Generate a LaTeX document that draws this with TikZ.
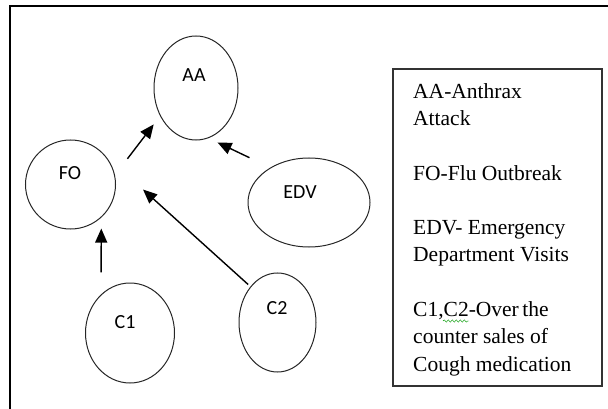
\documentclass[tikz,border=0pt]{standalone}
\usepackage{fontspec}
\setmainfont{Liberation Serif}
\newfontfamily\lblfont{Carlito}
\usetikzlibrary{arrows.meta,shapes.geometric,decorations.pathmorphing}

\begin{document}
\begin{tikzpicture}[x=1pt,y=-1pt,
  bubble/.style={ellipse, draw=black!85, line width=1pt, inner sep=0pt},
  lbl/.style={font=\lblfont\fontsize{20}{20}\selectfont},
  arr/.style={-{Triangle[length=14pt,width=12pt]}, line width=1.4pt},
  keytext/.style={align=left, inner sep=0pt, font=\fontsize{21.5}{27.3}\selectfont}]
\useasboundingbox (0,0) rectangle (608,409);

% Frame
\draw[line width=2.2pt] (10,409) -- (10,6) -- (608,6);

% Events
\node[bubble, minimum width=84pt, minimum height=104pt] (aa) at (196,88) {};
\node[bubble, minimum width=90pt, minimum height=89pt] (fo) at (70.5,184.5) {};
\node[bubble, minimum width=122pt, minimum height=89pt] (edv) at (309,202.5) {};
\node[bubble, minimum width=89pt, minimum height=100pt] (c1) at (130,333) {};
\node[bubble, minimum width=77pt, minimum height=99pt] (c2) at (277.5,322.5) {};

\node[lbl] (aa-t) at (194,75) {AA};
\node[lbl] (fo-t) at (70,173) {FO};
\node[lbl] (edv-t) at (300,192) {EDV};
\node[lbl] (c1-t) at (125,322) {C1};
\node[lbl] (c2-t) at (277,308) {C2};

% Arrows
\draw[arr, shorten <=20.5pt, shorten >=10.5pt] (fo.12) -- (aa.218);
\draw[arr, shorten <=23pt, shorten >=10pt] (edv.138) -- (aa.284);
\draw[arr, shorten <=3pt, shorten >=51pt] (c2.127) -- (fo.40);
\draw[arr, shorten <=22pt, shorten >=11pt] (c1.127) -- (fo.313);

% Key
\node[draw=black!80, line width=1.6pt, inner sep=0pt, anchor=north west,
  minimum width=209pt, minimum height=317pt] (key) at (392,68) {};
\node[keytext, anchor=north west] (key-t) at (413,83) {AA-Anthrax\\
  Attack\\[27.3pt]
  FO-Flu Outbreak\\[27.3pt]
  EDV- Emergency\\
  Department Visits\\[27.3pt]
  C1,C2-Over\,the\\
  counter sales of\\
  Cough medication};
\draw[green!60!black, decorate, decoration={snake, amplitude=1.2pt, segment length=4pt}]
  (443,321) -- (469,321);
\end{tikzpicture}
\end{document}
